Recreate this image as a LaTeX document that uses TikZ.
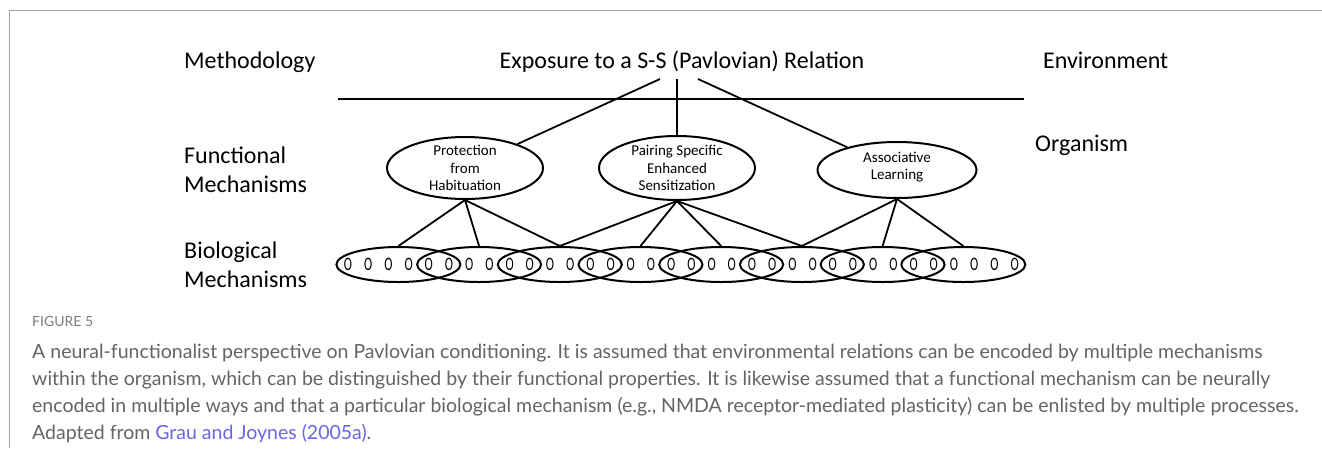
\documentclass[tikz,border=0pt]{standalone}
\usepackage{fontspec}
\setmainfont{Carlito}
\newfontfamily\capfont{Lato}
\usepackage{graphicx}
\usetikzlibrary{shapes.geometric}
\definecolor{framegray}{RGB}{165,165,165}
\definecolor{capgray}{RGB}{100,100,100}
\definecolor{figgray}{RGB}{125,125,125}
\definecolor{linkblue}{RGB}{108,99,229}
\begin{document}
\begin{tikzpicture}[x=1pt,y=-1pt,
  lbl/.style={font=\fontsize{24}{29}\selectfont, inner sep=0pt, align=left},
  fm/.style={draw, ellipse, line width=2pt, inner sep=0pt},
  ftext/.style={font=\fontsize{15}{17.5}\selectfont, align=center, inner sep=0pt},
  bm/.style={draw, ellipse, line width=2pt, minimum width=124pt, minimum height=35pt, inner sep=0pt},
  oo/.style={font=\fontsize{19}{20}\selectfont, inner sep=0pt},
  conn/.style={line width=1.8pt},
  captext/.style={font=\capfont\fontsize{19.5}{22}\selectfont, text=capgray, anchor=base west, inner sep=0pt}
]
\useasboundingbox (0,0) rectangle (1322,448);
% frame
\draw[framegray, line width=1.3pt] (1322,10.5) -- (9.5,10.5) -- (9.5,448);

% level labels
\node[lbl, anchor=base west] (meth) at (184,68) {Methodology};
\node[lbl, anchor=base] (expo) at (682,68) {Exposure to a S-S (Pavlovian) Relation};
\node[lbl, anchor=base west] (env) at (1043,68) {Environment};
\node[lbl, anchor=base west] (org) at (1035,151) {Organism};
\node[lbl, anchor=west] (func) at (184,170) {Functional\\Mechanisms};
\node[lbl, anchor=west] (bio) at (184,265) {Biological\\Mechanisms};

% separator line
\coordinate (hl) at (338,99);
\coordinate (hr) at (1024,99);
\draw[conn] (hl) -- (hr);

% functional mechanisms
\node[fm, minimum width=156pt, minimum height=62pt] (fm1) at (465,168) {};
\node[ftext] (fm1t) at (465,168) {Protection\\from\\Habituation};
\node[fm, minimum width=156pt, minimum height=64pt] (fm2) at (677,168) {};
\node[ftext] (fm2t) at (677,168) {Pairing Specific\\Enhanced\\Sensitization};
\node[fm, minimum width=159pt, minimum height=56pt] (fm3) at (897,170) {};
\node[ftext] (fm3t) at (897,167) {Associative\\Learning};

% connectors from the relation
\coordinate (t1) at (660,79);
\coordinate (t2) at (677,79);
\coordinate (t3) at (698,79);
\draw[conn] (t1) -- (fm1);
\draw[conn] (t2) -- (fm2.north);
\draw[conn] (t3) -- (fm3);

% biological mechanisms
\foreach \i in {0,...,7}
  \node[bm] (bm\i) at ({398.4+80.7*\i},264.5) {};
\foreach \k in {0,...,33}
  \node[oo] (o\k) at ({348+20.2*\k},264) {\scalebox{0.65}[1]{O}};

\foreach \j in {0,1,2} \draw[conn] (fm1.south) -- (bm\j.north);
\foreach \j in {2,3,4,5} \draw[conn] (fm2.south) -- (bm\j.north);
\foreach \j in {5,6,7} \draw[conn] (fm3.south) -- (bm\j.north);

% caption
\node[font=\capfont\fontsize{14}{16}\selectfont, text=figgray, anchor=base west, inner sep=0pt] (figlbl) at (32,326) {FIGURE 5};
\node[captext] (cap1) at (32,358) {A neural-functionalist perspective on Pavlovian conditioning. It is assumed that environmental relations can be encoded by multiple mechanisms};
\node[captext] (cap2) at (32,385) {within the organism, which can be distinguished by their functional properties. It is likewise assumed that a functional mechanism can be neurally};
\node[captext] (cap3) at (32,412) {encoded in multiple ways and that a particular biological mechanism (e.g., NMDA receptor-mediated plasticity) can be enlisted by multiple processes.};
\node[captext] (cap4) at (32,439) {Adapted from \textcolor{linkblue}{Grau and Joynes (2005a)}.};
\end{tikzpicture}
\end{document}
